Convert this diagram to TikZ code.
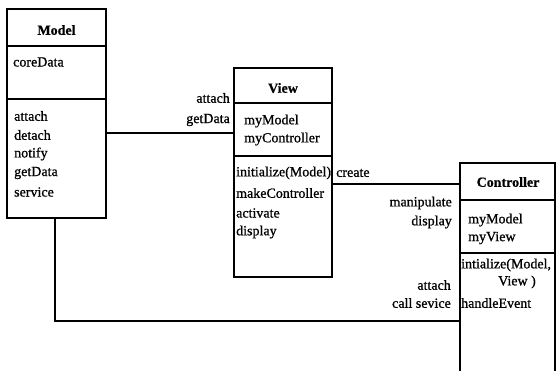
\documentclass[tikz,border=0pt]{standalone}
\usepackage{fontspec}
\setmainfont{Liberation Serif}
\newfontfamily\heavyserif[FakeBold=0.9]{Liberation Serif}
\newfontfamily\heavytitle[FakeBold=0.6]{Liberation Serif Bold}
\begin{document}
\begin{tikzpicture}[x=1pt,y=1pt,
  box/.style={draw,line width=1.2pt,minimum width=#1,inner sep=0pt},
  sep/.style={line width=1.1pt},
  wire/.style={line width=1.1pt},
  title/.style={inner sep=0pt,font=\fontsize{14}{16}\heavytitle},
  member/.style={inner sep=0pt,anchor=west,font=\fontsize{14}{16}\heavyserif},
  lbl/.style={inner sep=0pt,anchor=east,font=\fontsize{14}{16}\heavyserif}]
\clip (0,0) rectangle (556,371);
\fill[white] (0,0) rectangle (556,371);

% class boxes
\node[box=99pt,minimum height=209pt] (model) at (56.5,257.5) {};
\node[box=98pt,minimum height=209pt] (view) at (283,198.5) {};
\node[box=95pt,minimum height=237pt] (ctrl) at (507.5,89.5) {};

% compartment separators
\draw[sep] (model.west |- 0,325) -- (model.east |- 0,325);
\draw[sep] (model.west |- 0,272) -- (model.east |- 0,272);
\draw[sep] (view.west |- 0,268) -- (view.east |- 0,268);
\draw[sep] (view.west |- 0,215) -- (view.east |- 0,215);
\draw[sep] (ctrl.west |- 0,171) -- (ctrl.east |- 0,171);
\draw[sep] (ctrl.west |- 0,118) -- (ctrl.east |- 0,118);

% Model
\node[title] (mt) at (56.5,341) {Model};
\node[member] (m1) at (13,309) {coreData};
\node[member] (m2) at (14,255) {attach};
\node[member] (m3) at (14,236) {detach};
\node[member] (m4) at (14,217) {notify};
\node[member] (m5) at (14,198) {getData};
\node[member] (m6) at (14,179) {service};

% View
\node[title] (vt) at (283,283) {View};
\node[member] (v1) at (244,250) {myModel};
\node[member] (v2) at (244,232) {myController};
\node[member] (v3) at (236,198) {initialize(Model)};
\node[member] (v4) at (236,178) {makeController};
\node[member] (v5) at (236,158) {activate};
\node[member] (v6) at (236,139) {display};

% Controller
\node[title] (ct) at (508,189) {Controller};
\node[member] (c1) at (468,151) {myModel};
\node[member] (c2) at (468,133) {myView};
\node[member] (c3) at (461,106) {intialize(Model,};
\node[inner sep=0pt,font=\fontsize{14}{16}\heavyserif] (c4) at (517,89) {View )};
\node[member] (c5) at (461,68) {handleEvent};

% connectors
\coordinate (mv) at (0,238);
\coordinate (cr) at (0,187);
\coordinate (mc) at (0,50);
\draw[wire] (model.east |- mv) -- (view.west |- mv);
\draw[wire] (view.east |- cr) -- (ctrl.west |- cr);
\draw[wire] (model.south -| 55,0) |- (ctrl.west |- mc);

% connector labels
\node[lbl] (l1) at (230,273) {attach};
\node[lbl] (l2) at (230,251) {getData};
\node[member] (l3) at (336,198) {create};
\node[lbl] (l4) at (452,168) {manipulate};
\node[lbl] (l5) at (452,149) {display};
\node[lbl] (l6) at (451,86) {attach};
\node[lbl] (l7) at (451,68) {call sevice};
\end{tikzpicture}
\end{document}
